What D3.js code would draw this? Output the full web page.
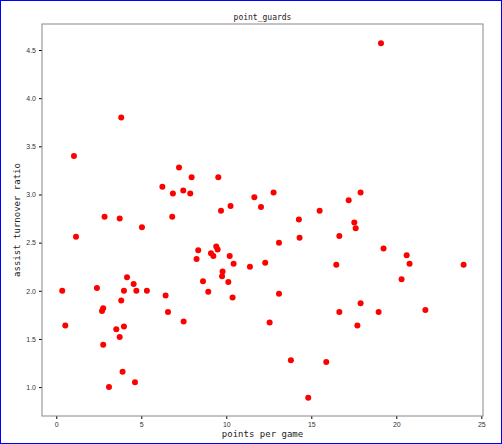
<!DOCTYPE html>
<html>
<head>
<meta charset="utf-8">
<script src="https://cdn.jsdelivr.net/npm/d3@7"></script>
<style>
body { margin: 0; background: #fff; }
svg { display: block; font-family: "DejaVu Sans Mono", monospace; }
</style>
</head>
<body>
<svg id="chart" width="502" height="444"></svg>
<script>
// points per game
var ppg = [19.1, 3.82, 1.04, 1.16, 0.35, 0.53, 2.39, 2.84, 3.73, 2.69, 2.76, 2.76, 3.10, 3.53,
    3.73, 3.98, 3.90, 4.63, 3.82, 3.98, 4.16, 4.55, 4.71, 5.33, 5.04, 6.24, 6.86, 6.82, 7.22,
    7.47, 7.88, 7.96, 6.43, 6.57, 7.49, 8.25, 8.35, 8.63, 8.94, 9.10, 9.24, 9.41, 9.49, 9.53,
    9.69, 9.78, 9.75, 10.12, 10.20, 10.25, 10.37, 10.43, 11.39, 11.65, 12.04, 12.29, 12.55,
    12.78, 13.10, 13.10, 13.80, 14.27, 14.31, 14.82, 15.49, 15.88, 16.47, 16.65, 16.65, 17.20,
    17.53, 17.61, 17.71, 17.90, 17.90, 18.96, 19.25, 20.31, 20.61, 20.78, 21.71, 23.96];
// assist turnover ratio
var atr = [4.57, 3.80, 3.40, 2.56, 2.00, 1.64, 2.03, 2.77, 2.75, 1.79, 1.82, 1.44, 1.00, 1.60,
    1.52, 1.63, 1.16, 1.05, 1.90, 2.00, 2.14, 2.07, 2.00, 2.00, 2.66, 3.08, 3.01, 2.77, 3.28,
    3.04, 3.01, 3.18, 1.95, 1.78, 1.68, 2.33, 2.42, 2.10, 1.99, 2.39, 2.36, 2.46, 2.43, 3.18,
    2.83, 2.20, 2.15, 2.09, 2.36, 2.88, 1.93, 2.28, 2.25, 2.97, 2.87, 2.29, 1.67, 3.02, 2.50,
    1.97, 1.28, 2.74, 2.55, 0.89, 2.83, 1.26, 2.27, 2.57, 1.78, 2.94, 2.71, 2.65, 1.64, 3.02,
    1.87, 1.78, 2.44, 2.12, 2.37, 2.28, 1.80, 2.27];
var xTicks = [0, 5, 10, 15, 20, 25];
var yTicks = [1.0, 1.5, 2.0, 2.5, 3.0, 3.5, 4.0, 4.5];

var svg = d3.select('#chart');
var mLeft = 42, mRight = 483, mTop = 24, mBottom = 416;

var x = d3.scaleLinear().domain([-0.84, 25.1]).range([mLeft, mRight]);
var y = d3.scaleLinear().domain([0.70, 4.77]).range([mBottom, mTop]);

// outer blue border
svg.append('rect').attr('x', 0.5).attr('y', 0.5).attr('width', 501).attr('height', 443)
    .attr('fill', 'none').attr('stroke', '#0000ff');

svg.append('g').attr('transform', 'translate(0,' + mBottom + ')')
    .call(d3.axisBottom(x).tickValues(xTicks).tickSize(3).tickFormat(d3.format('d')))
    .call(g => g.select('.domain').remove())
    .selectAll('text').attr('font-size', 7).attr('fill', '#333');

svg.append('g').attr('transform', 'translate(' + mLeft + ',0)')
    .call(d3.axisLeft(y).tickValues(yTicks).tickSize(3).tickFormat(d3.format('.1f')))
    .call(g => g.select('.domain').remove())
    .selectAll('text').attr('font-size', 7).attr('fill', '#333');

svg.append('rect').attr('x', mLeft).attr('y', mTop)
    .attr('width', mRight - mLeft).attr('height', mBottom - mTop)
    .attr('fill', 'none').attr('stroke', '#888').attr('stroke-width', 1);

svg.selectAll('circle.pt')
    .data(ppg.map((d, i) => [d, atr[i]]))
    .enter().append('circle')
    .attr('class', 'pt')
    .attr('cx', d => x(d[0]))
    .attr('cy', d => y(d[1]))
    .attr('r', 3)
    .attr('fill', '#ff0000');

svg.append('text').attr('x', (mLeft + mRight) / 2).attr('y', 20)
    .attr('text-anchor', 'middle').attr('font-size', 8).attr('fill', '#222')
    .text('point_guards');

svg.append('text').attr('x', (mLeft + mRight) / 2).attr('y', 437)
    .attr('text-anchor', 'middle').attr('font-size', 9).attr('fill', '#222')
    .text('points per game');

svg.append('text').attr('transform', 'translate(20,' + ((mTop + mBottom) / 2) + ') rotate(-90)')
    .attr('text-anchor', 'middle').attr('font-size', 9).attr('fill', '#222')
    .text('assist turnover ratio');
</script>
</body>
</html>
